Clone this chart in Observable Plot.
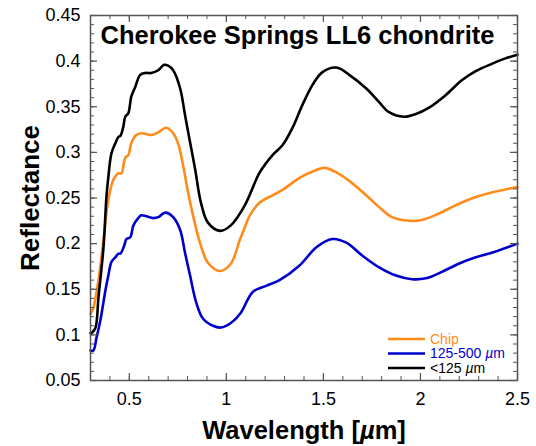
<!DOCTYPE html>
<html><head><meta charset="utf-8">
<script src="https://cdn.jsdelivr.net/npm/d3@7"></script>
<script src="https://cdn.jsdelivr.net/npm/@observablehq/plot@0.6"></script>
<style>body{margin:0;background:#fff} svg{display:block}</style>
</head><body><div id="chart"></div>
<script>
// ---- data ----
const chipX = [0.3,0.315,0.341,0.367,0.392,0.418,0.444,0.459,0.479,0.495,0.510,0.536,0.562,0.613,0.649,0.690,0.726,0.751,0.777,0.803,0.828,0.864,0.905,0.967,1.023,1.069,1.095,1.121,1.172,1.238,1.290,1.377,1.444,1.505,1.567,1.649,1.736,1.787,1.854,1.941,2.008,2.095,2.182,2.285,2.367,2.5];
const chipY = [0.123,0.130,0.160,0.204,0.248,0.270,0.277,0.277,0.294,0.297,0.310,0.319,0.321,0.319,0.322,0.327,0.321,0.310,0.286,0.256,0.231,0.201,0.179,0.170,0.178,0.204,0.218,0.231,0.245,0.253,0.259,0.272,0.279,0.283,0.278,0.266,0.250,0.240,0.229,0.225,0.226,0.233,0.242,0.251,0.256,0.262];

const coarseX = [0.3,0.315,0.331,0.351,0.377,0.392,0.408,0.428,0.444,0.454,0.474,0.485,0.505,0.521,0.546,0.562,0.587,0.623,0.649,0.674,0.690,0.726,0.762,0.787,0.813,0.844,0.879,0.931,0.972,1.023,1.074,1.136,1.208,1.274,1.377,1.464,1.546,1.618,1.700,1.787,1.874,1.956,2.028,2.110,2.197,2.285,2.367,2.5];
const coarseY = [0.083,0.083,0.097,0.116,0.149,0.165,0.180,0.185,0.189,0.189,0.198,0.205,0.207,0.220,0.228,0.231,0.230,0.228,0.229,0.233,0.234,0.229,0.215,0.190,0.165,0.136,0.118,0.110,0.108,0.113,0.124,0.147,0.154,0.160,0.176,0.196,0.205,0.201,0.187,0.174,0.165,0.161,0.162,0.169,0.178,0.185,0.190,0.200];

const fineX = [0.3,0.31,0.326,0.341,0.367,0.382,0.392,0.408,0.428,0.444,0.454,0.469,0.479,0.495,0.510,0.531,0.556,0.582,0.613,0.649,0.679,0.700,0.726,0.762,0.787,0.813,0.838,0.869,0.905,0.967,1.023,1.095,1.172,1.238,1.290,1.341,1.392,1.444,1.495,1.567,1.633,1.721,1.787,1.838,1.915,1.977,2.044,2.131,2.213,2.285,2.367,2.438,2.5];
const fineY = [0.102,0.103,0.108,0.141,0.196,0.251,0.273,0.299,0.310,0.317,0.318,0.328,0.339,0.343,0.361,0.372,0.385,0.387,0.387,0.390,0.396,0.395,0.390,0.370,0.341,0.311,0.283,0.245,0.223,0.214,0.220,0.242,0.278,0.297,0.308,0.327,0.352,0.374,0.388,0.393,0.385,0.370,0.355,0.344,0.339,0.342,0.349,0.363,0.379,0.389,0.397,0.403,0.407];

const seriesNames = ["Chip", "125-500 µm", "<125 µm"];
const seriesColors = ["#ff8c1a", "#0000cc", "#000000"];

const xTicks = [0.5, 1, 1.5, 2, 2.5];
const xTickLabels = ["0.5", "1", "1.5", "2", "2.5"];
const yTicks = [0.05, 0.1, 0.15, 0.2, 0.25, 0.3, 0.35, 0.4, 0.45];
const yTickLabels = ["0.05", "0.1", "0.15", "0.2", "0.25", "0.3", "0.35", "0.4", "0.45"];

const titleText = "Cherokee Springs LL6 chondrite";
const xLabel = "Wavelength [µm]";
const yLabel = "Reflectance";

// ---- build ----
const W = 536, H = 446;
const mL = 90, mR = 19, mT = 15, mB = 66;
const innerW = W - mL - mR, innerH = H - mT - mB;
const axisColor = "#555";
const font = "'Liberation Sans', Arial, Helvetica, sans-serif";

const toRows = (xs, ys, name) => xs.map((x, i) => ({x, y: ys[i], series: name}));
const rows = [
  ...toRows(chipX, chipY, seriesNames[0]),
  ...toRows(coarseX, coarseY, seriesNames[1]),
  ...toRows(fineX, fineY, seriesNames[2])
];

const xMinor = d3.range(3, 26).map(i => i / 10);
const yMinor = d3.range(5, 46).map(i => i / 100);
const majorLen = 7, minorLen = 4;
const xFmt = d => xTickLabels[xTicks.indexOf(d)];
const yFmt = d => yTickLabels[yTicks.indexOf(d)];

const chart = Plot.plot({
  width: W, height: H,
  marginLeft: mL, marginRight: mR, marginTop: mT, marginBottom: mB,
  style: {fontFamily: font, fontSize: "18px", color: "#000", background: "#fff"},
  x: {domain: [0.3, 2.5]},
  y: {domain: [0.05, 0.45]},
  color: {domain: seriesNames, range: seriesColors},
  marks: [
    Plot.line(rows, {x: "x", y: "y", z: "series", stroke: "series", strokeWidth: 2.6, curve: "catmull-rom"}),
    // inward ticks, all four sides
    Plot.tickX(xMinor, {x: d => d, insetTop: innerH - minorLen, stroke: axisColor, strokeWidth: 1}),
    Plot.tickX(xMinor, {x: d => d, insetBottom: innerH - minorLen, stroke: axisColor, strokeWidth: 1}),
    Plot.tickX(xTicks, {x: d => d, insetTop: innerH - majorLen, stroke: axisColor, strokeWidth: 1.2}),
    Plot.tickX(xTicks, {x: d => d, insetBottom: innerH - majorLen, stroke: axisColor, strokeWidth: 1.2}),
    Plot.tickY(yMinor, {y: d => d, insetRight: innerW - minorLen, stroke: axisColor, strokeWidth: 1}),
    Plot.tickY(yMinor, {y: d => d, insetLeft: innerW - minorLen, stroke: axisColor, strokeWidth: 1}),
    Plot.tickY(yTicks, {y: d => d, insetRight: innerW - majorLen, stroke: axisColor, strokeWidth: 1.2}),
    Plot.tickY(yTicks, {y: d => d, insetLeft: innerW - majorLen, stroke: axisColor, strokeWidth: 1.2}),
    Plot.axisX(xTicks, {tickSize: 0, tickPadding: 12, tickFormat: xFmt, label: null, fontSize: 18}),
    Plot.axisY(yTicks, {tickSize: 0, tickPadding: 10, tickFormat: yFmt, label: null, fontSize: 18}),
    Plot.frame({stroke: axisColor, strokeWidth: 1.5}),
    Plot.text([titleText], {text: d => d, frameAnchor: "top-left", textAnchor: "start", lineAnchor: "middle", dx: 10, dy: 20, fontSize: 25.5, fontWeight: "bold"}),
    Plot.text([yLabel], {text: d => d, frameAnchor: "left", textAnchor: "middle", lineAnchor: "middle", rotate: -90, dx: -60, fontSize: 26, fontWeight: "bold"}),
    Plot.text([xLabel], {text: d => d, frameAnchor: "bottom", textAnchor: "middle", lineAnchor: "middle", dy: 50, fontSize: 25.5, fontWeight: "bold"})
  ]
});

const svg = d3.select(chart.tagName === "svg" ? chart : chart.querySelector("svg"));

// legend (lower right, inside frame)
const right = W - mR, bottom = H - mB;
const leg = svg.append("g").attr("font-family", font).attr("font-size", 14).attr("text-anchor", "start");
const rowsY = [bottom - 41, bottom - 26.5, bottom - 12];
seriesNames.forEach((name, i) => {
  leg.append("line").attr("x1", right - 129).attr("x2", right - 92)
    .attr("y1", rowsY[i]).attr("y2", rowsY[i])
    .attr("stroke", seriesColors[i]).attr("stroke-width", 2.6);
  leg.append("text").attr("x", right - 87).attr("y", rowsY[i]).attr("dy", "0.35em")
    .attr("text-anchor", "start").attr("fill", seriesColors[i]).text(name);
});

// italic µ
svg.selectAll("text").each(function () {
  const el = d3.select(this);
  if (this.querySelector("tspan")) return;
  const t = this.textContent;
  const k = t.indexOf("µ");
  if (k < 0) return;
  el.text(null);
  el.append("tspan").text(t.slice(0, k));
  el.append("tspan").attr("font-style", "italic").text("µ");
  el.append("tspan").text(t.slice(k + 1));
});

document.getElementById("chart").appendChild(chart);
</script>
</body></html>
